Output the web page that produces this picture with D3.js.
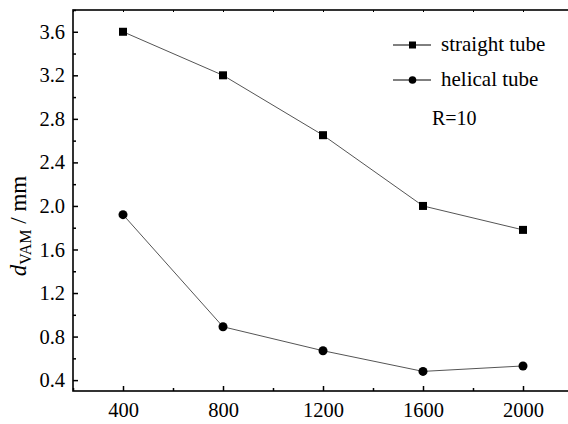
<!DOCTYPE html>
<html>
<head>
<meta charset="utf-8">
<script src="https://cdn.jsdelivr.net/npm/d3@7"></script>
<style>
  body { margin: 0; background: #fff; }
  svg text { font-family: "Liberation Serif", "Times New Roman", serif; fill: #000; }
</style>
</head>
<body>
<div id="chart"></div>
<script>
var xValues = [400, 800, 1200, 1600, 2000];
var straightTube = [3.6, 3.2, 2.65, 2.0, 1.78];
var helicalTube = [1.92, 0.89, 0.67, 0.48, 0.53];
var xTicks = [400, 800, 1200, 1600, 2000];
var yTicks = [0.4, 0.8, 1.2, 1.6, 2.0, 2.4, 2.8, 3.2, 3.6];
var seriesNames = ['straight tube', 'helical tube'];
var note = 'R=10';

var width = 568, height = 424;
var plotLeft = 73, plotTop = 10, plotRight = 573, plotBottom = 391;

var svg = d3.select('#chart').append('svg')
    .attr('width', width)
    .attr('height', height);

var x = d3.scaleLinear().domain([200, 2200]).range([plotLeft, plotRight]);
var y = d3.scaleLinear().domain([0.3, 3.8]).range([plotBottom, plotTop]);

// frame
svg.append('rect')
    .attr('x', plotLeft).attr('y', plotTop)
    .attr('width', plotRight - plotLeft).attr('height', plotBottom - plotTop)
    .attr('fill', 'none').attr('stroke', '#000').attr('stroke-width', 1.6);

// minor ticks halfway between majors
var xMinor = d3.range(200, 2201, 200).filter(function (d) { return xTicks.indexOf(d) < 0; });
var yMinor = d3.range(0.4, 3.81, 0.2).map(function (d) { return +d.toFixed(1); })
    .filter(function (d) { return yTicks.indexOf(d) < 0; });

function styleTicks(g) {
    g.select('.domain').remove();
    g.selectAll('line').attr('stroke', '#000').attr('stroke-width', 1.5);
    g.selectAll('text')
        .style('font-family', '"Liberation Serif", serif')
        .style('font-size', '20.5px')
        .style('fill', '#000');
}

// bottom axis (ticks pointing in)
svg.append('g').attr('transform', 'translate(0,' + plotBottom + ')')
    .call(d3.axisBottom(x).tickValues(xTicks).tickSize(-5).tickPadding(11).tickFormat(d3.format('d')))
    .call(styleTicks);
svg.append('g').attr('transform', 'translate(0,' + plotBottom + ')')
    .call(d3.axisBottom(x).tickValues(xMinor).tickSize(-3).tickFormat(''))
    .call(styleTicks);

// top axis ticks
svg.append('g').attr('transform', 'translate(0,' + plotTop + ')')
    .call(d3.axisTop(x).tickValues(xTicks.concat(xMinor)).tickSize(-2).tickFormat(''))
    .call(function (g) { g.select('.domain').remove(); g.selectAll('line').attr('stroke-width', 1); });

// left axis
svg.append('g').attr('transform', 'translate(' + plotLeft + ',0)')
    .call(d3.axisLeft(y).tickValues(yTicks).tickSize(-5).tickPadding(8).tickFormat(d3.format('.1f')))
    .call(styleTicks);
svg.append('g').attr('transform', 'translate(' + plotLeft + ',0)')
    .call(d3.axisLeft(y).tickValues(yMinor).tickSize(-3).tickFormat(''))
    .call(styleTicks);

// y axis title
var yt = svg.append('text')
    .attr('transform', 'translate(26,226) rotate(-90)')
    .attr('text-anchor', 'middle')
    .style('font-size', '23px');
yt.append('tspan').style('font-style', 'italic').text('d');
yt.append('tspan').style('font-size', '16px').attr('dy', 5).text('VAM');
yt.append('tspan').attr('dy', -5).text(' / mm');

var line = d3.line()
    .x(function (d, i) { return x(xValues[i]); })
    .y(function (d) { return y(d); });

svg.append('path').attr('d', line(straightTube))
    .attr('fill', 'none').attr('stroke', '#555').attr('stroke-width', 1);
svg.append('path').attr('d', line(helicalTube))
    .attr('fill', 'none').attr('stroke', '#555').attr('stroke-width', 1);

svg.selectAll('rect.sq').data(straightTube).enter().append('rect')
    .attr('class', 'sq')
    .attr('x', function (d, i) { return x(xValues[i]) - 4; })
    .attr('y', function (d) { return y(d) - 4; })
    .attr('width', 8).attr('height', 8)
    .attr('fill', '#000');

svg.selectAll('circle.dot').data(helicalTube).enter().append('circle')
    .attr('class', 'dot')
    .attr('cx', function (d, i) { return x(xValues[i]); })
    .attr('cy', function (d) { return y(d); })
    .attr('r', 4.5)
    .attr('fill', '#000');

// legend
var legendY = [45, 80];
seriesNames.forEach(function (name, i) {
    var g = svg.append('g').attr('transform', 'translate(0,' + legendY[i] + ')');
    g.append('line').attr('x1', 393).attr('x2', 431).attr('y1', 0).attr('y2', 0)
        .attr('stroke', '#000').attr('stroke-width', 1);
    if (i === 0) {
        g.append('rect').attr('x', 409).attr('y', -3.5).attr('width', 7).attr('height', 7).attr('fill', '#000');
    } else {
        g.append('circle').attr('cx', 412.5).attr('cy', 0).attr('r', 3.8).attr('fill', '#000');
    }
    g.append('text').attr('x', 441).attr('y', 6).style('font-size', '21px').text(name);
});

svg.append('text').attr('x', 432).attr('y', 125).style('font-size', '20px').text(note);
</script>
</body>
</html>
